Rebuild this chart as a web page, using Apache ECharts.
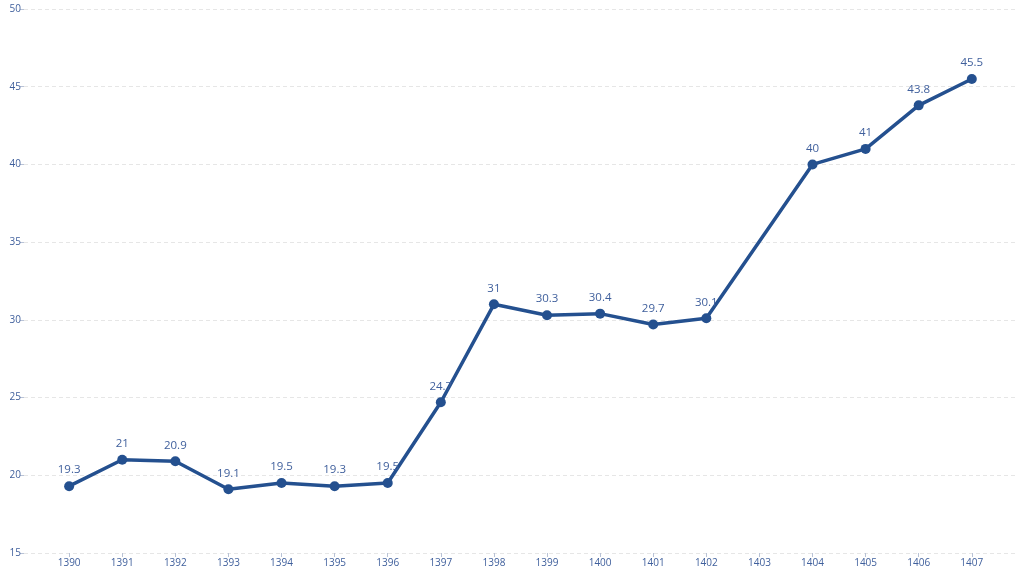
<!DOCTYPE html>
<html>
<head>
<meta charset="utf-8">
<style>
  html, body { margin: 0; padding: 0; background: #fff; }
  #chart { width: 1024px; height: 573px; }
</style>
<script src="https://cdn.jsdelivr.net/npm/echarts@6/dist/echarts.min.js"></script>
</head>
<body>
<div id="chart"></div>
<script>
// years on the x axis (1403 has no value)
var years = [1390, 1391, 1392, 1393, 1394, 1395, 1396, 1397, 1398, 1399, 1400, 1401, 1402, 1403, 1404, 1405, 1406, 1407];
var values = [19.3, 21, 20.9, 19.1, 19.5, 19.3, 19.5, 24.7, 31, 30.3, 30.4, 29.7, 30.1, null, 40, 41, 43.8, 45.5];
var yTicks = [15, 20, 25, 30, 35, 40, 45, 50];

var lineColor = '#24508f';
var textColor = '#3f5f9c';

var points = [];
years.forEach(function (y, i) {
  if (values[i] !== null) points.push([y, values[i]]);
});

var chart = echarts.init(document.getElementById('chart'));
var option = {
  animation: false,
  grid: { left: 24, right: 6, top: 9, bottom: 20 },
  xAxis: {
    type: 'value',
    min: 1389.15,
    max: 1407.87,
    axisLine: { show: false },
    splitLine: { show: false },
    axisTick: {
      show: true,
      customValues: years,
      length: 4,
      lineStyle: { color: '#b8c2d6' }
    },
    axisLabel: {
      customValues: years,
      color: textColor,
      fontFamily: 'Open Sans',
      fontSize: 10,
      margin: 5,
      formatter: function (v) { return String(v); }
    }
  },
  yAxis: {
    type: 'value',
    min: yTicks[0],
    max: yTicks[yTicks.length - 1],
    interval: 5,
    axisLine: { show: false },
    axisTick: {
      show: true,
      length: 4,
      lineStyle: { color: '#b8c2d6' }
    },
    axisLabel: {
      color: textColor,
      fontFamily: 'Open Sans',
      fontSize: 10,
      margin: 3
    },
    splitLine: {
      lineStyle: { color: '#e6e6e6', type: [4, 3], width: 1 }
    }
  },
  series: [
    {
      type: 'line',
      data: points,
      connectNulls: true,
      symbol: 'circle',
      symbolSize: 10,
      lineStyle: { color: lineColor, width: 3.5 },
      itemStyle: { color: lineColor },
      label: {
        show: true,
        position: 'top',
        distance: 5,
        color: textColor,
        fontFamily: 'Open Sans',
        fontSize: 11.5,
        formatter: function (p) { return p.value[1]; }
      }
    }
  ]
};
chart.setOption(option);
</script>
</body>
</html>
